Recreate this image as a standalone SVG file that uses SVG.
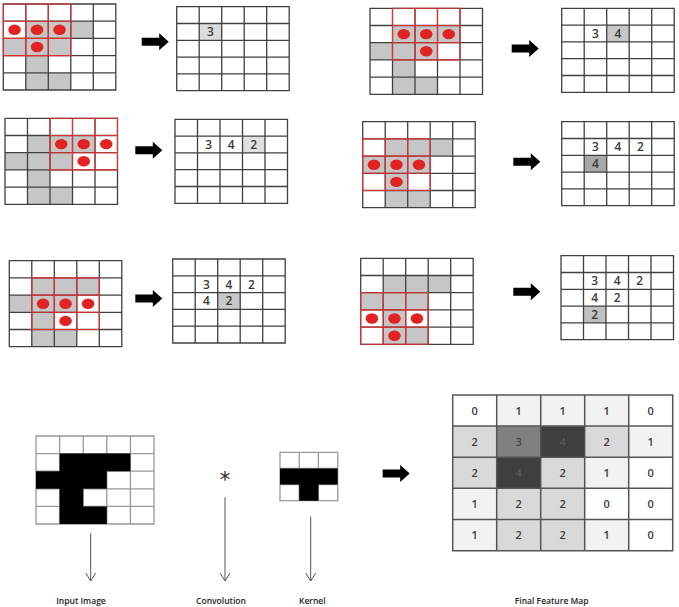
<svg xmlns="http://www.w3.org/2000/svg" xmlns:xlink="http://www.w3.org/1999/xlink" width="679" height="607" viewBox="0 0 679 607">
<style>
.gl{fill:none;stroke:#404040;stroke-width:1.3}
.rw{fill:none;stroke:#e53030;stroke-width:1.1}
.gc{fill:#c6c6c6}
.dot{fill:#e32222}
.num{font-family:"Open Sans","Liberation Sans",sans-serif;font-size:12px;font-weight:600;fill:#3a3a3a;text-anchor:middle}
.fm{font-family:"Open Sans","Liberation Sans",sans-serif;font-size:11px;font-weight:600;fill:#3a3a3a;text-anchor:middle}
.lbl{font-family:"Open Sans","Liberation Sans",sans-serif;font-size:8.5px;font-weight:600;fill:#222;text-anchor:middle}
.conn{fill:none;stroke:#555;stroke-width:1}
.bk{fill:#000}
.bl{fill:none;stroke:#999;stroke-width:1.3}
</style>
<defs>
<path id="gin" d="M0,0H112.5V86H0Z M22.5,0V86 M45,0V86 M67.5,0V86 M90,0V86 M0,17.2H112.5 M0,34.4H112.5 M0,51.6H112.5 M0,68.8H112.5"/>
<path id="gout" d="M0,0H112.5V84H0Z M22.5,0V84 M45,0V84 M67.5,0V84 M90,0V84 M0,16.8H112.5 M0,33.6H112.5 M0,50.4H112.5 M0,67.2H112.5"/>
<g id="shade">
<rect class="gc" x="22.5" y="17.2" width="67.5" height="17.2"/>
<rect class="gc" x="0" y="34.4" width="67.5" height="17.2"/>
<rect class="gc" x="22.5" y="51.6" width="22.5" height="17.2"/>
<rect class="gc" x="22.5" y="68.8" width="45" height="17.2"/>
</g>
<g id="win">
<path class="rw" d="M0,0H67.5V51.6H0Z M22.5,0V51.6 M45,0V51.6 M0,17.2H67.5 M0,34.4H67.5"/>
<ellipse class="dot" cx="11.25" cy="25.8" rx="6.3" ry="5.2"/>
<ellipse class="dot" cx="33.75" cy="25.8" rx="6.3" ry="5.2"/>
<ellipse class="dot" cx="56.25" cy="25.8" rx="6.3" ry="5.2"/>
<ellipse class="dot" cx="33.75" cy="43" rx="6.3" ry="5.2"/>
</g>
<path id="bigarrow" d="M0,4.5H17.5V0L27,8.5L17.5,17V12.5H0Z" fill="#000"/>
</defs>

<!-- Panel 1 -->
<g id="panel1">
<g transform="translate(3.3,4)"><use xlink:href="#shade"/><use xlink:href="#gin" class="gl"/><use xlink:href="#win"/></g>
<g transform="translate(176.7,6.7)">
<rect x="22.5" y="16.8" width="22.5" height="16.8" fill="#dcdcdc"/>
<use xlink:href="#gout" class="gl"/>
<text class="num" x="33.75" y="29.5">3</text>
</g>
</g>

<!-- Panel 2 -->
<g id="panel2">
<g transform="translate(370,8.3)"><use xlink:href="#shade"/><use xlink:href="#gin" class="gl"/><use xlink:href="#win" transform="translate(22.5,0)"/></g>
<g transform="translate(561.7,8.3)">
<rect x="45" y="16.8" width="22.5" height="16.8" fill="#c8c8c8"/>
<use xlink:href="#gout" class="gl"/>
<text class="num" x="33.75" y="29.5">3</text>
<text class="num" x="56.25" y="29.5">4</text>
</g>
</g>

<!-- Panel 3 -->
<g id="panel3">
<g transform="translate(5,118.3)"><use xlink:href="#shade"/><use xlink:href="#gin" class="gl"/><use xlink:href="#win" transform="translate(45,0)"/></g>
<g transform="translate(175,119.3)">
<rect x="67.5" y="16.8" width="22.5" height="16.8" fill="#e0e0e0"/>
<use xlink:href="#gout" class="gl"/>
<text class="num" x="33.75" y="29.5">3</text>
<text class="num" x="56.25" y="29.5">4</text>
<text class="num" x="78.75" y="29.5">2</text>
</g>
</g>

<!-- Panel 4 -->
<g id="panel4">
<g transform="translate(362.7,121.7)"><use xlink:href="#shade"/><use xlink:href="#gin" class="gl"/><use xlink:href="#win" transform="translate(0,17.2)"/></g>
<g transform="translate(561.7,121.7)">
<rect x="22.5" y="33.6" width="22.5" height="16.8" fill="#a8a8a8"/>
<use xlink:href="#gout" class="gl"/>
<text class="num" x="33.75" y="29.5">3</text>
<text class="num" x="56.25" y="29.5">4</text>
<text class="num" x="78.75" y="29.5">2</text>
<text class="num" x="33.75" y="46.3">4</text>
</g>
</g>

<!-- Panel 5 -->
<g id="panel5">
<g transform="translate(9.3,260.7)"><use xlink:href="#shade"/><use xlink:href="#gin" class="gl"/><use xlink:href="#win" transform="translate(22.5,17.2)"/></g>
<g transform="translate(172.7,259)">
<rect x="45" y="33.6" width="22.5" height="16.8" fill="#c8c8c8"/>
<use xlink:href="#gout" class="gl"/>
<text class="num" x="33.75" y="29.5">3</text>
<text class="num" x="56.25" y="29.5">4</text>
<text class="num" x="78.75" y="29.5">2</text>
<text class="num" x="33.75" y="46.3">4</text>
<text class="num" x="56.25" y="46.3">2</text>
</g>
</g>

<!-- Panel 6 -->
<g id="panel6">
<g transform="translate(360.7,258.3)"><use xlink:href="#shade"/><use xlink:href="#gin" class="gl"/><use xlink:href="#win" transform="translate(0,34.4)"/></g>
<g transform="translate(561,255.7)">
<rect x="22.5" y="50.4" width="22.5" height="16.8" fill="#c0c0c0"/>
<use xlink:href="#gout" class="gl"/>
<text class="num" x="33.75" y="29.5">3</text>
<text class="num" x="56.25" y="29.5">4</text>
<text class="num" x="78.75" y="29.5">2</text>
<text class="num" x="33.75" y="46.3">4</text>
<text class="num" x="56.25" y="46.3">2</text>
<text class="num" x="33.75" y="63.1">2</text>
</g>
</g>

<!-- Input image -->
<g id="input-image" transform="translate(36,436)">
<path class="bl" d="M0,0H118V88H0Z M23.6,0V88 M47.2,0V88 M70.8,0V88 M94.4,0V88 M0,17.6H118 M0,35.2H118 M0,52.8H118 M0,70.4H118"/>
<path class="bk" d="M23.6,17.6H94.4V35.2H70.8V52.8H47.2V70.4H70.8V88H23.6V52.8H0V35.2H23.6Z"/>
</g>

<!-- Convolution symbol -->
<g id="convolution">
<text x="225" y="487" font-family="'DejaVu Sans',sans-serif" font-size="21" fill="#222" text-anchor="middle">*</text>
</g>

<!-- Kernel -->
<g id="kernel" transform="translate(280,452.3)">
<path class="bl" d="M0,0H57.7V48.4H0Z M19.2,0V48.4 M38.4,0V48.4 M0,16.1H57.7 M0,32.2H57.7"/>
<path class="bk" d="M0,16.1H57.7V32.2H38.4V48.4H19.2V32.2H0Z"/>
</g>

<!-- Final feature map -->
<g id="feature-map" transform="translate(452.7,395)">
<g>
<rect x="0" y="0" width="44" height="31.1" fill="#ffffff"/>
<rect x="44" y="0" width="44" height="31.1" fill="#f2f2f2"/>
<rect x="88" y="0" width="44" height="31.1" fill="#f2f2f2"/>
<rect x="132" y="0" width="44" height="31.1" fill="#f2f2f2"/>
<rect x="176" y="0" width="44" height="31.1" fill="#ffffff"/>
<rect x="0" y="31.1" width="44" height="31.1" fill="#d9d9d9"/>
<rect x="44" y="31.1" width="44" height="31.1" fill="#808080"/>
<rect x="88" y="31.1" width="44" height="31.1" fill="#3f3f3f"/>
<rect x="132" y="31.1" width="44" height="31.1" fill="#d9d9d9"/>
<rect x="176" y="31.1" width="44" height="31.1" fill="#f2f2f2"/>
<rect x="0" y="62.2" width="44" height="31.1" fill="#d9d9d9"/>
<rect x="44" y="62.2" width="44" height="31.1" fill="#3f3f3f"/>
<rect x="88" y="62.2" width="44" height="31.1" fill="#d9d9d9"/>
<rect x="132" y="62.2" width="44" height="31.1" fill="#f2f2f2"/>
<rect x="176" y="62.2" width="44" height="31.1" fill="#ffffff"/>
<rect x="0" y="93.3" width="44" height="31.1" fill="#f2f2f2"/>
<rect x="44" y="93.3" width="44" height="31.1" fill="#d9d9d9"/>
<rect x="88" y="93.3" width="44" height="31.1" fill="#d9d9d9"/>
<rect x="132" y="93.3" width="44" height="31.1" fill="#ffffff"/>
<rect x="176" y="93.3" width="44" height="31.1" fill="#ffffff"/>
<rect x="0" y="124.4" width="44" height="31.3" fill="#f2f2f2"/>
<rect x="44" y="124.4" width="44" height="31.3" fill="#d9d9d9"/>
<rect x="88" y="124.4" width="44" height="31.3" fill="#d9d9d9"/>
<rect x="132" y="124.4" width="44" height="31.3" fill="#f2f2f2"/>
<rect x="176" y="124.4" width="44" height="31.3" fill="#ffffff"/>
</g>
<path fill="none" stroke="#555" stroke-width="1.5" d="M0,0H220V155.7H0Z M44,0V155.7 M88,0V155.7 M132,0V155.7 M176,0V155.7 M0,31.1H220 M0,62.2H220 M0,93.3H220 M0,124.4H220"/>
<g class="fm">
<text x="22" y="19.5">0</text><text x="66" y="19.5">1</text><text x="110" y="19.5">1</text><text x="154" y="19.5">1</text><text x="198" y="19.5">0</text>
<text x="22" y="50.6">2</text><text x="66" y="50.6" fill="#444">3</text><text x="110" y="50.6" fill="#5a5a5a">4</text><text x="154" y="50.6">2</text><text x="198" y="50.6">1</text>
<text x="22" y="81.7">2</text><text x="66" y="81.7" fill="#5a5a5a">4</text><text x="110" y="81.7">2</text><text x="154" y="81.7">1</text><text x="198" y="81.7">0</text>
<text x="22" y="112.8">1</text><text x="66" y="112.8">2</text><text x="110" y="112.8">2</text><text x="154" y="112.8">0</text><text x="198" y="112.8">0</text>
<text x="22" y="143.9">1</text><text x="66" y="143.9">2</text><text x="110" y="143.9">2</text><text x="154" y="143.9">1</text><text x="198" y="143.9">0</text>
</g>
</g>

<!-- Connectors -->
<g id="connectors">
<use xlink:href="#bigarrow" transform="translate(141.7,33.3)"/>
<use xlink:href="#bigarrow" transform="translate(511.7,40)"/>
<use xlink:href="#bigarrow" transform="translate(135.3,141.7)"/>
<use xlink:href="#bigarrow" transform="translate(513.3,153.3)"/>
<use xlink:href="#bigarrow" transform="translate(135.3,290)"/>
<use xlink:href="#bigarrow" transform="translate(513.3,283.3)"/>
<use xlink:href="#bigarrow" transform="translate(382.7,465)"/>
<path class="conn" d="M90.7,533.3V581 M85.7,573L90.7,581L95.7,573"/>
<path class="conn" d="M225,497.3V581 M220,573L225,581L230,573"/>
<path class="conn" d="M310.7,516.7V581 M305.7,573L310.7,581L315.7,573"/>
</g>

<!-- Labels -->
<g id="labels">
<text class="lbl" x="81" y="604">Input Image</text>
<text class="lbl" x="221" y="604">Convolution</text>
<text class="lbl" x="312.3" y="604">Kernel</text>
<text class="lbl" x="551.7" y="604">Final Feature Map</text>
</g>
</svg>
